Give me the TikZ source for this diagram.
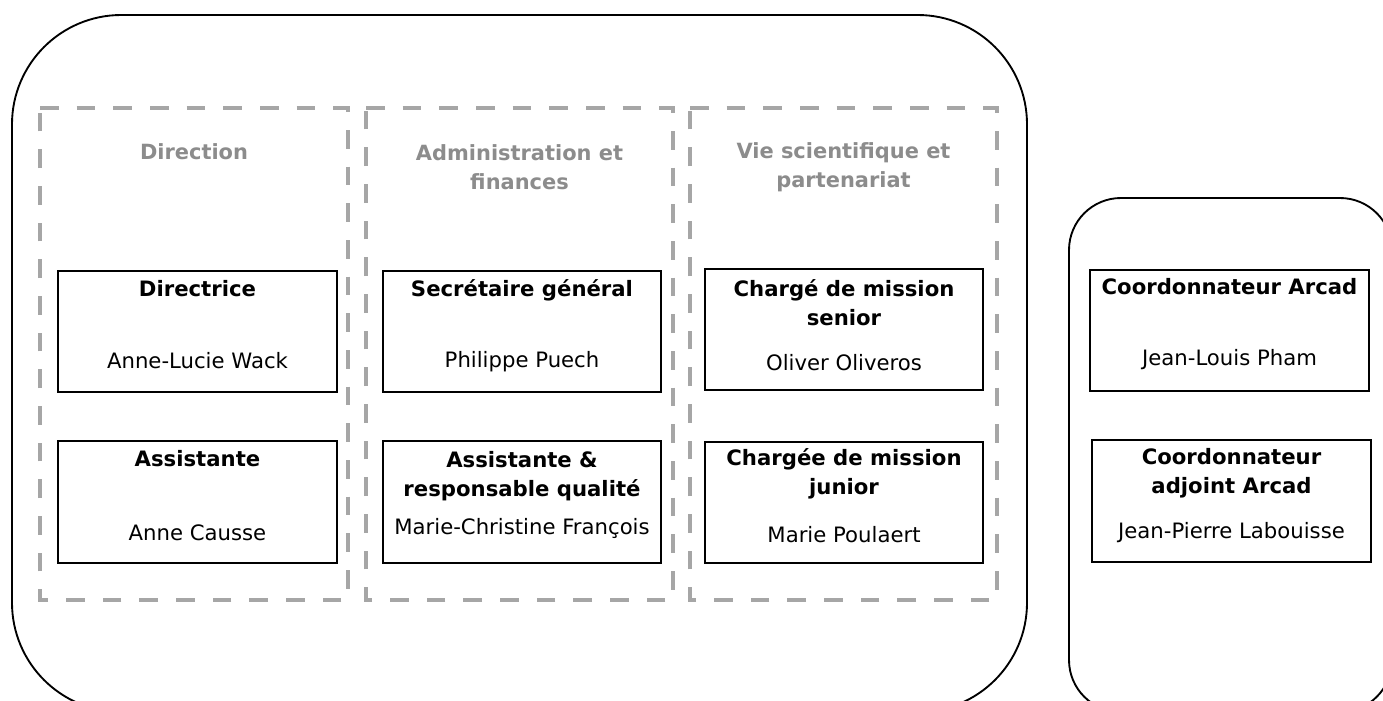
\documentclass[tikz,border=0pt]{standalone}
\usepackage{fontspec}
\setmainfont{DejaVu Sans}
\definecolor{dashgray}{HTML}{A6A6A6}
\definecolor{headgray}{HTML}{8C8C8C}
\tikzset{
  outerbox/.style={draw=black, line width=1.4pt},
  column/.style={draw=dashgray, line width=3pt, dash pattern=on 14pt off 13.5pt},
  personbox/.style={draw=black, line width=1.4pt, rectangle, minimum width=209pt, minimum height=91pt, inner sep=0pt},
  titletext/.style={font=\bfseries\fontsize{15.9}{21.75}\selectfont, align=center, inner sep=0pt},
  nametext/.style={font=\fontsize{15.9}{21.75}\selectfont, inner sep=0pt},
  headtext/.style={font=\bfseries\fontsize{15.7}{21.75}\selectfont, text=headgray, align=center, inner sep=0pt},
}
\begin{document}
\begin{tikzpicture}[x=0.75pt,y=-0.75pt]
\path[use as bounding box, fill=white] (0,0) rectangle (1383,700);
\clip (0,0) rectangle (1383,700);

% outer rounded frames
\draw[outerbox, rounded corners=82pt] (12,15) rectangle (1027,712);
\draw[outerbox, rounded corners=39pt] (1069,198) rectangle (1392,712);

% dashed columns
\draw[column] (40,108) -- (348,108) -- (348,600) -- (40,600) -- cycle;
\draw[column] (366,108) -- (673,108) -- (673,600) -- (366,600) -- cycle;
\draw[column] (690,108) -- (997,108) -- (997,600) -- (690,600) -- cycle;

% headings
\node[headtext] (hdir) at (194,152) {Direction};
\node[headtext] (hadm) at (519.5,167.5) {Administration et\\finances};
\node[headtext] (hvie) at (843.5,167.5) {Vie scientifique et\\partenariat};

% column 1
\node[personbox] (b11) at (197.5,331.5) {};
\node[titletext] (t11) at (197.5,289) {Directrice};
\node[nametext] (n11) at (197.5,361) {Anne-Lucie Wack};
\node[personbox] (b12) at (197.5,502) {};
\node[titletext] (t12) at (197.5,459) {Assistante};
\node[nametext] (n12) at (197.5,533) {Anne Causse};

% column 2
\node[personbox] (b21) at (522,331.5) {};
\node[titletext] (t21) at (522,290) {Secrétaire général};
\node[nametext] (n21) at (522,362) {Philippe Puech};
\node[personbox] (b22) at (522,502) {};
\node[titletext] (t22) at (522,476.5) {Assistante \&\\responsable qualité};
\node[nametext] (n22) at (522,528) {Marie-Christine François};

% column 3
\node[personbox] (b31) at (844,329.5) {};
\node[titletext] (t31) at (844,302.5) {Chargé de mission\\senior};
\node[nametext] (n31) at (844,363) {Oliver Oliveros};
\node[personbox] (b32) at (844,502.5) {};
\node[titletext] (t32) at (844,474) {Chargée de mission\\junior};
\node[nametext] (n32) at (844,535) {Marie Poulaert};

% right frame
\node[personbox] (b41) at (1229.5,330.5) {};
\node[titletext] (t41) at (1229.5,287) {Coordonnateur Arcad};
\node[nametext] (n41) at (1229.5,360) {Jean-Louis Pham};
\node[personbox] (b42) at (1231.5,501) {};
\node[titletext] (t42) at (1231.5,473.5) {Coordonnateur\\adjoint Arcad};
\node[nametext] (n42) at (1231.5,533) {Jean-Pierre Labouisse};
\end{tikzpicture}
\end{document}
